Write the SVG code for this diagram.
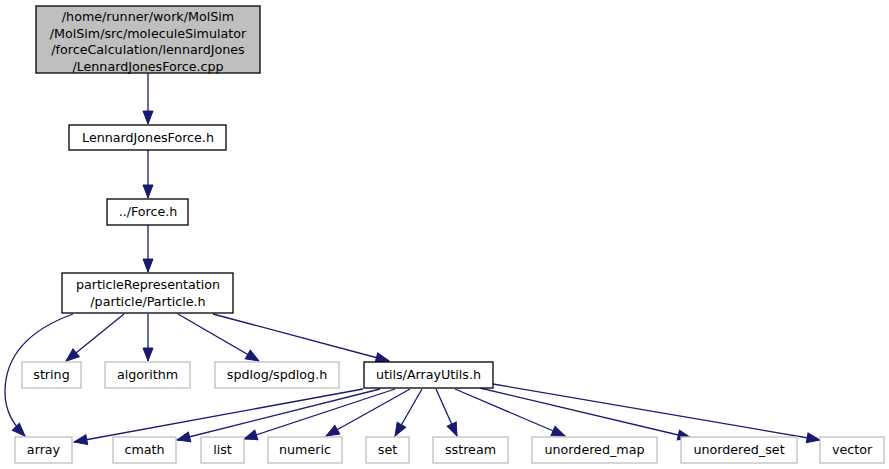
<svg xmlns="http://www.w3.org/2000/svg" width="889" height="469" viewBox="0 0 889 469">
<style>
text{font-family:"DejaVu Sans","Liberation Sans",sans-serif;font-size:12.7px;fill:#000;text-anchor:middle}
.doc rect{fill:#fff;stroke:#000;stroke-width:1.3}
.main rect{fill:#bfbfbf;stroke:#000;stroke-width:1.3}
.ext rect{fill:#fff;stroke:#bfbfbf;stroke-width:1.3}
#edges path{fill:none;stroke:#191970;stroke-width:1.3}
</style>
<defs>
<marker id="ah" markerUnits="userSpaceOnUse" markerWidth="15" markerHeight="12" viewBox="0 0 15 12" refX="14" refY="6" orient="auto">
<path d="M1,1 L14,6 L1,11 Z" fill="#191970" stroke="#191970" stroke-width="1"/>
</marker>
</defs>
<rect width="889" height="469" fill="#fff"/>
<g id="edges">
<path d="M148,73 V124" marker-end="url(#ah)"/>
<path d="M148,150 V198" marker-end="url(#ah)"/>
<path d="M148,225 V272" marker-end="url(#ah)"/>
<path d="M73,314 C40,326 5,348 5,392 C5,412 14,425 25,436" marker-end="url(#ah)"/>
<path d="M124,314 L66,361" marker-end="url(#ah)"/>
<path d="M148,314 V361" marker-end="url(#ah)"/>
<path d="M178,314 L259,361" marker-end="url(#ah)"/>
<path d="M213,314 L389,361" marker-end="url(#ah)"/>
<path d="M363,389 L74,442" marker-end="url(#ah)"/>
<path d="M380,389 L177,440" marker-end="url(#ah)"/>
<path d="M395,389 L244,439" marker-end="url(#ah)"/>
<path d="M410,389 L326,436" marker-end="url(#ah)"/>
<path d="M422,389 L395,436" marker-end="url(#ah)"/>
<path d="M436,389 L457,436" marker-end="url(#ah)"/>
<path d="M455,389 L565,436" marker-end="url(#ah)"/>
<path d="M480,388 L691,438" marker-end="url(#ah)"/>
<path d="M493,384 L820,440" marker-end="url(#ah)"/>
</g>
<g id="n_main" class="main"><rect x="36" y="6" width="224" height="67"/>
<text x="148" y="21">/home/runner/work/MolSim</text>
<text x="148" y="37.5">/MolSim/src/moleculeSimulator</text>
<text x="148" y="54">/forceCalculation/lennardJones</text>
<text x="148" y="70.5">/LennardJonesForce.cpp</text></g>
<g id="n_ljf" class="doc"><rect x="69" y="125" width="157" height="25"/><text x="148" y="142">LennardJonesForce.h</text></g>
<g id="n_force" class="doc"><rect x="107" y="199" width="81" height="26"/><text x="148" y="216">../Force.h</text></g>
<g id="n_particle" class="doc"><rect x="62" y="273" width="171" height="40"/><text x="148" y="289">particleRepresentation</text><text x="148" y="306">/particle/Particle.h</text></g>
<g id="n_string" class="ext"><rect x="22" y="362" width="59" height="26"/><text x="51.5" y="379">string</text></g>
<g id="n_algorithm" class="ext"><rect x="105" y="362" width="85" height="26"/><text x="147.5" y="379">algorithm</text></g>
<g id="n_spdlog" class="ext"><rect x="215" y="362" width="124" height="26"/><text x="277" y="379">spdlog/spdlog.h</text></g>
<g id="n_arrayutils" class="doc"><rect x="364" y="362" width="129" height="26"/><text x="428.5" y="379">utils/ArrayUtils.h</text></g>
<g id="n_array" class="ext"><rect x="15" y="437" width="57" height="26"/><text x="43.5" y="454">array</text></g>
<g id="n_cmath" class="ext"><rect x="113" y="437" width="63" height="26"/><text x="144.5" y="454">cmath</text></g>
<g id="n_list" class="ext"><rect x="201" y="437" width="43" height="26"/><text x="222.5" y="454">list</text></g>
<g id="n_numeric" class="ext"><rect x="268" y="437" width="74" height="26"/><text x="305" y="454">numeric</text></g>
<g id="n_set" class="ext"><rect x="366" y="437" width="43" height="26"/><text x="387.5" y="454">set</text></g>
<g id="n_sstream" class="ext"><rect x="433" y="437" width="75" height="26"/><text x="470.5" y="454">sstream</text></g>
<g id="n_umap" class="ext"><rect x="532" y="437" width="125" height="26"/><text x="594.5" y="454">unordered_map</text></g>
<g id="n_uset" class="ext"><rect x="681" y="437" width="116" height="26"/><text x="739" y="454">unordered_set</text></g>
<g id="n_vector" class="ext"><rect x="820" y="437" width="64" height="26"/><text x="852" y="454">vector</text></g>
</svg>
